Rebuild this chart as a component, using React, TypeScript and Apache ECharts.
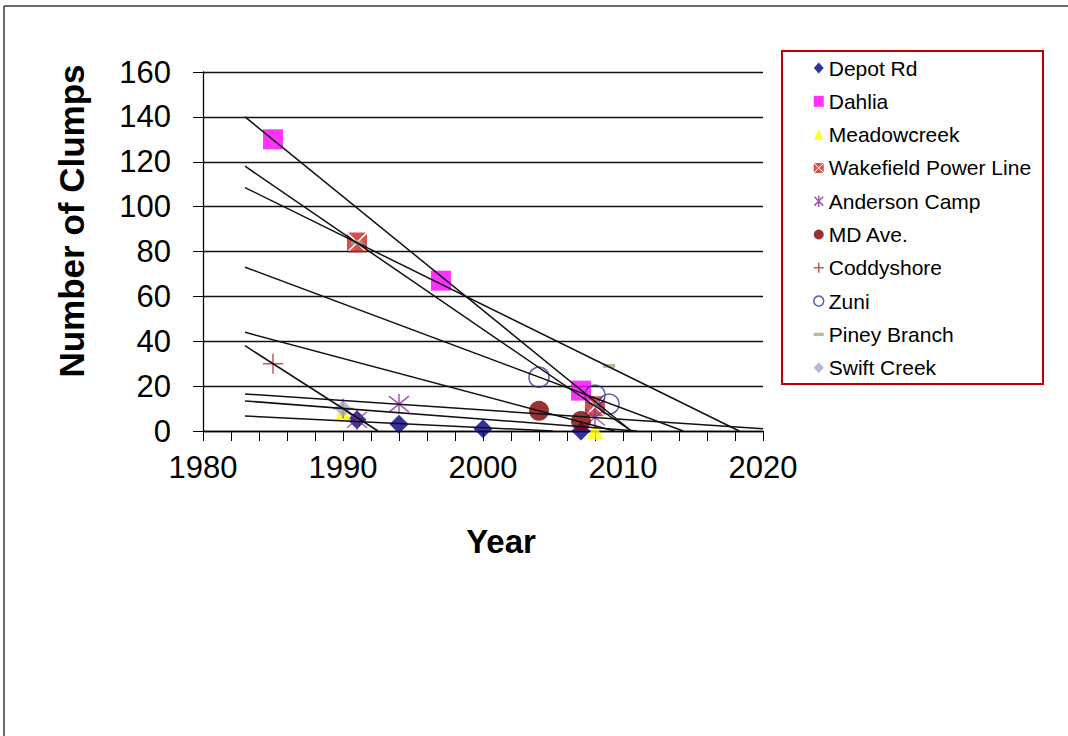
import React, { useEffect, useRef } from 'react';
import * as echarts from 'echarts';

// ---- data ----
const siteNames = [
  'Depot Rd',
  'Dahlia',
  'Meadowcreek',
  'Wakefield Power Line',
  'Anderson Camp',
  'MD Ave.',
  'Coddyshore',
  'Zuni',
  'Piney Branch',
  'Swift Creek',
];
const siteYears = [
  [1991, 1994, 2000, 2007],
  [1985, 1997, 2007],
  [1990, 2008],
  [1991, 2008],
  [1991, 1994, 2008],
  [2004, 2007],
  [1985, 1990],
  [2004, 2008, 2009],
  [1991, 2009],
  [1990],
];
const siteClumps = [
  [5, 3, 1, 0],
  [130, 67, 18],
  [8, 0],
  [84, 11],
  [5, 12, 6],
  [9, 4.5],
  [30, 10],
  [24, 16, 12],
  [84, 29],
  [10],
];
const siteColors = [
  '#000080',
  '#FF00FF',
  '#FFFF00',
  '#CC2222',
  '#882D99',
  '#800000',
  '#B03030',
  '#333399',
  '#A8A878',
  '#A4A4CC',
];

// linear trend lines (value at start year, year and value where they stop)
const trendStartYear = 1983;
const trendStartValues = [6.7, 140, 13.4, 118, 16.5, 44, 38, 73, 108.5];
const trendEndYears = [2005, 2010.6, 2011, 2010.6, 2020, 2009.4, 1992.5, 2014.3, 2018.3];
const trendEndValues = [0, 0, 0, 0, 1, 0, 0, 0, 0];

const xMin = 1980;
const xMax = 2020;
const xStep = 10;
const yMin = 0;
const yMax = 160;
const yStep = 20;

const FONT = "'Liberation Sans', Arial, sans-serif";

const WAKE_PATH =
  'path://M1.2,0L18.8,0L10,8.8Z M20,1.2L20,18.8L11.2,10Z M18.8,20L1.2,20L10,11.2Z M0,18.8L0,1.2L8.8,10Z';
const STAR_PATH = 'path://M2,2L18,18M18,2L2,18M10,0L10,20';
const PLUS_PATH = 'path://M0,10L20,10M10,0L10,20';
const DASH_PATH = 'path://M0,0H12V4H0Z';

type MarkerDef = {
  symbol: string;
  size: number | number[];
  stroke?: boolean;
  hollow?: boolean;
  legendIcon: string;
};

const markers: MarkerDef[] = [
  { symbol: 'diamond', size: 19, legendIcon: 'diamond' },
  { symbol: 'rect', size: 20, legendIcon: 'rect' },
  { symbol: 'triangle', size: 17, legendIcon: 'triangle' },
  { symbol: WAKE_PATH, size: 20, legendIcon: WAKE_PATH },
  { symbol: STAR_PATH, size: 20, stroke: true, legendIcon: STAR_PATH },
  { symbol: 'circle', size: 20, legendIcon: 'circle' },
  { symbol: PLUS_PATH, size: 20, stroke: true, legendIcon: PLUS_PATH },
  { symbol: 'circle', size: 20, hollow: true, legendIcon: 'circle' },
  { symbol: DASH_PATH, size: [12, 4], legendIcon: DASH_PATH },
  { symbol: 'diamond', size: 17, legendIcon: 'diamond' },
];

function styleFor(i: number) {
  const m = markers[i];
  const c = siteColors[i];
  if (m.stroke) return { color: 'rgba(0,0,0,0)', borderColor: c, borderWidth: 1.5 };
  if (m.hollow) return { color: 'rgba(0,0,0,0)', borderColor: c, borderWidth: 1.5 };
  return { color: c, borderWidth: 0 };
}

export default function App() {
  const ref = useRef<HTMLDivElement>(null);

  useEffect(() => {
    if (!ref.current) return;
    const chart = echarts.init(ref.current, null, { renderer: 'svg' });

    const scatterSeries = siteNames.map((name, i) => ({
      type: 'scatter',
      name,
      data: siteYears[i].map((yr, k) => [yr, siteClumps[i][k]]),
      symbol: markers[i].symbol,
      symbolSize: markers[i].size,
      itemStyle: styleFor(i),
      clip: false,
      z: 2,
      silent: true,
    }));

    const trendSeries = trendStartValues.map((sv, i) => ({
      type: 'line',
      name: 'trend' + i,
      data: [
        [trendStartYear, sv],
        [trendEndYears[i], trendEndValues[i]],
      ],
      symbol: 'none',
      lineStyle: { color: '#111', width: 1.5 },
      silent: true,
      z: 5,
    }));

    const option: any = {
      animation: false,
      backgroundColor: '#ffffff',
      textStyle: { fontFamily: FONT },
      grid: { left: 203, right: 305, top: 72, bottom: 305, containLabel: false },
      xAxis: {
        type: 'value',
        min: xMin,
        max: xMax,
        interval: xStep,
        axisLine: { show: true, lineStyle: { color: '#000', width: 1.3 } },
        axisTick: { show: true, length: 10, lineStyle: { color: '#000', width: 1 } },
        minorTick: { show: true, splitNumber: 5, length: 10, lineStyle: { color: '#000', width: 1 } },
        splitLine: { show: false },
        axisLabel: {
          fontSize: 31,
          color: '#000',
          margin: 21,
          fontFamily: FONT,
          formatter: (v: number) => String(v),
        },
      },
      yAxis: {
        type: 'value',
        min: yMin,
        max: yMax,
        interval: yStep,
        axisLine: { show: true, lineStyle: { color: '#000', width: 1.3 } },
        axisTick: { show: true, length: 10, lineStyle: { color: '#000', width: 1 } },
        splitLine: { show: true, lineStyle: { color: '#111', width: 1.4 } },
        axisLabel: { fontSize: 31, color: '#000', margin: 32, fontFamily: FONT },
      },
      legend: {
        show: true,
        orient: 'vertical',
        left: 813,
        top: 57,
        padding: 0,
        itemWidth: 10,
        itemHeight: 11,
        itemGap: 11.3,
        selectedMode: false,
        textStyle: { fontSize: 21, color: '#000', fontFamily: FONT, lineHeight: 22 },
        data: siteNames.map((name, i) => ({
          name,
          icon: markers[i].legendIcon,
          itemStyle: styleFor(i),
        })),
      },
      graphic: [
        {
          type: 'line',
          shape: { x1: 4, y1: 6, x2: 1068, y2: 6 },
          style: { stroke: '#3a3a3a', lineWidth: 1.5 },
        },
        {
          type: 'line',
          shape: { x1: 4, y1: 6, x2: 4, y2: 736 },
          style: { stroke: '#3a3a3a', lineWidth: 1.5 },
        },
        {
          type: 'rect',
          shape: { x: 782, y: 51, width: 261, height: 333 },
          style: { fill: 'none', stroke: '#C00000', lineWidth: 2 },
        },
        {
          type: 'text',
          x: 501,
          y: 541,
          style: {
            text: 'Year',
            fontSize: 33,
            fontWeight: 'bold',
            fontFamily: FONT,
            fill: '#000',
            align: 'center',
            verticalAlign: 'middle',
            textAlign: 'center',
            textVerticalAlign: 'middle',
          },
        },
        {
          type: 'text',
          x: 71,
          y: 221,
          rotation: Math.PI / 2,
          style: {
            text: 'Number of Clumps',
            fontSize: 35,
            fontWeight: 'bold',
            fontFamily: FONT,
            fill: '#000',
            align: 'center',
            verticalAlign: 'middle',
            textAlign: 'center',
            textVerticalAlign: 'middle',
          },
        },
      ],
      series: [...scatterSeries, ...trendSeries],
    };

    chart.setOption(option);
    return () => chart.dispose();
  }, []);

  return (
    <div
      ref={ref}
      style={{ position: 'absolute', left: 0, top: 0, width: 1068, height: 736 }}
    />
  );
}
